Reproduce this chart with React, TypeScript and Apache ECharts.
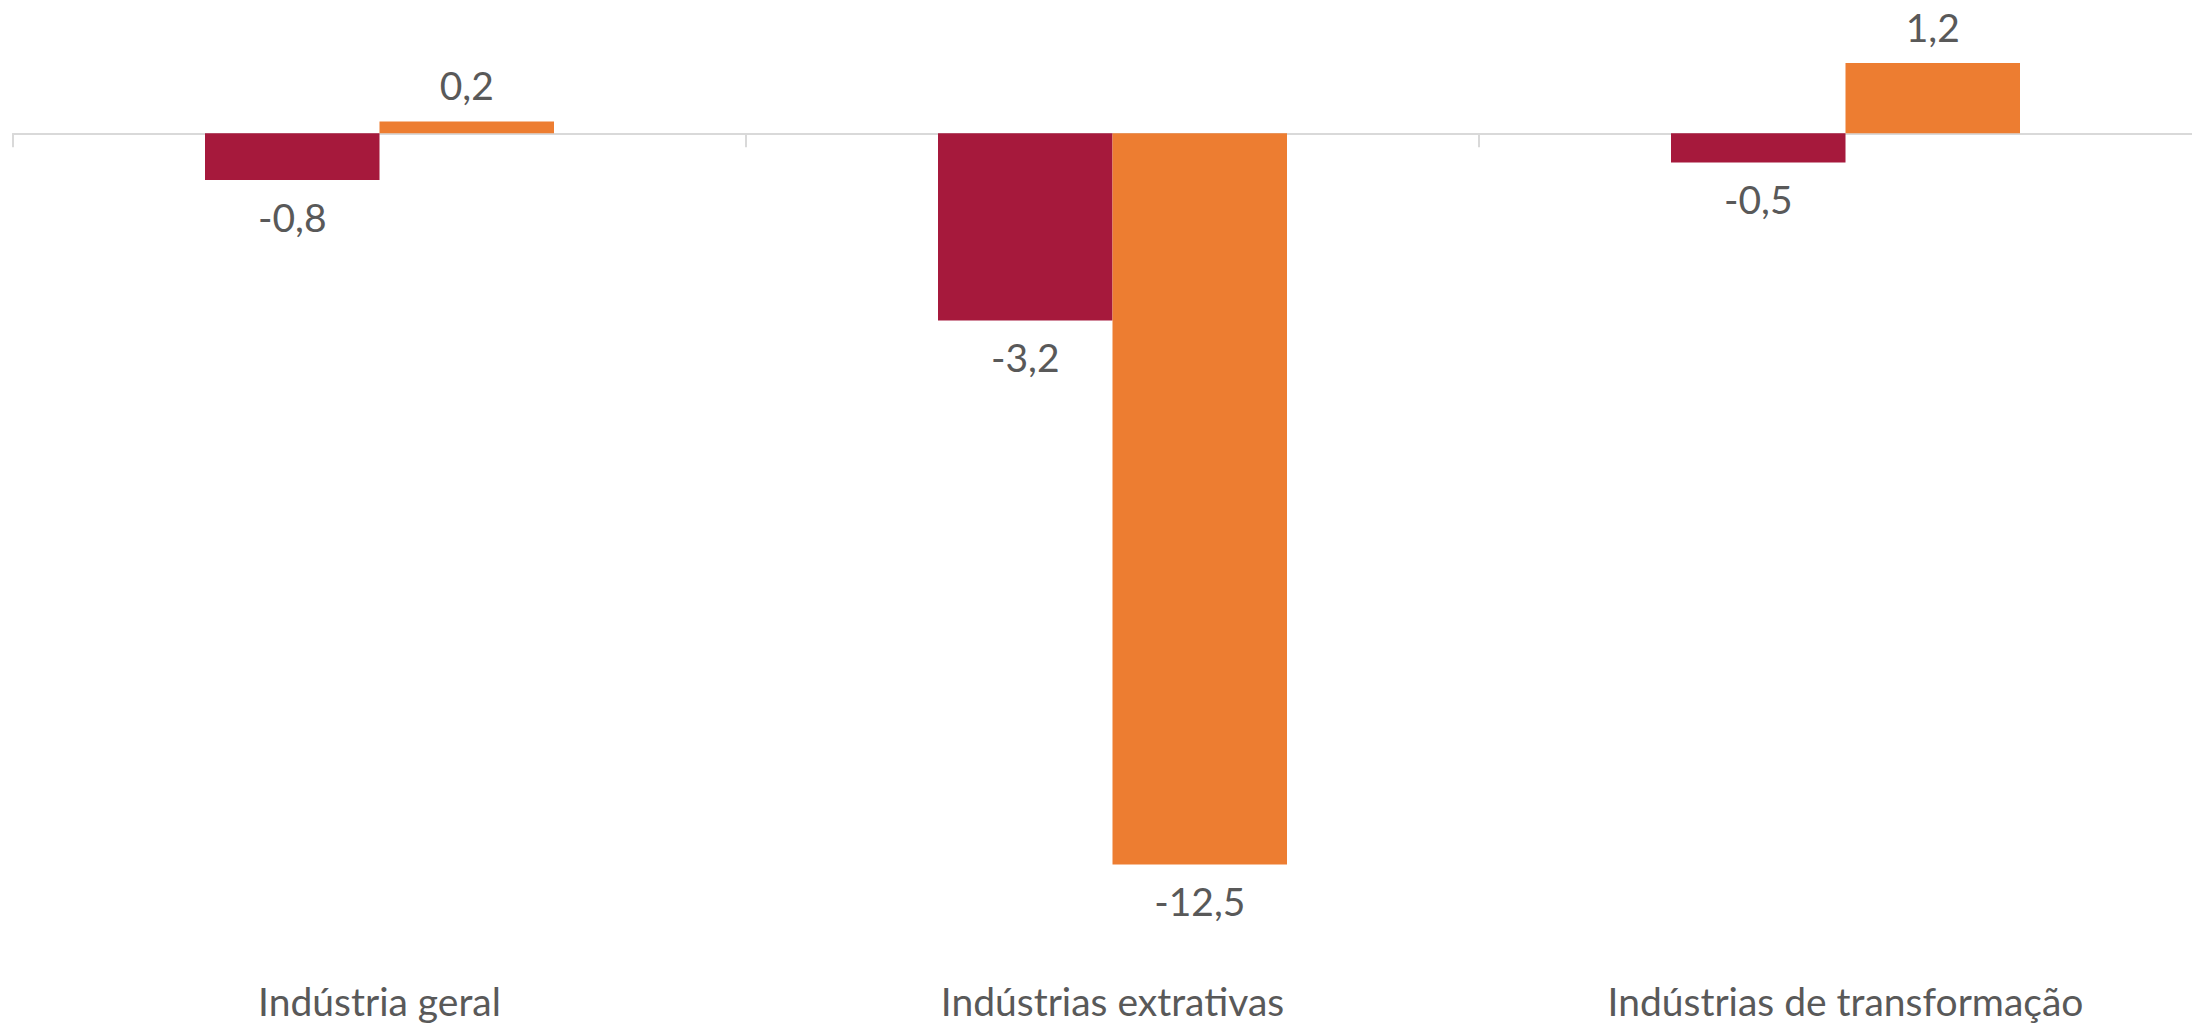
import React, { useEffect, useRef } from "react";
import * as echarts from "echarts";

const categories = ["Indústria geral", "Indústrias extrativas", "Indústrias de transformação"];
const seriesA = [-0.8, -3.2, -0.5];
const seriesB = [0.2, -12.5, 1.2];

const FONT = "Lato";
const LABEL_COLOR = "#595959";

const fmt = (p: any) => Number(p.value).toFixed(1).replace(".", ",");

export default function App() {
  const ref = useRef<HTMLDivElement>(null);
  useEffect(() => {
    document.body.style.margin = "0";
    const chart = echarts.init(ref.current!, null, { renderer: "svg" });
    const labelCfg = {
      show: true,
      position: "outside",
      distance: 17,
      formatter: fmt,
      color: LABEL_COLOR,
      fontFamily: FONT,
      fontSize: 39,
      lineHeight: 39,
    };
    chart.setOption({
      animation: false,
      backgroundColor: "#ffffff",
      grid: {
        left: 13,
        top: 16.3,
        width: 2199,
        height: 936,
        containLabel: false,
        outerBoundsMode: "none",
      },
      xAxis: [
        {
          type: "category",
          data: categories,
          axisLine: { onZero: true, lineStyle: { color: "#d9d9d9", width: 2 } },
          axisTick: { show: true, length: 14, lineStyle: { color: "#d9d9d9", width: 2 } },
          axisLabel: { show: false },
          splitLine: { show: false },
        },
        {
          type: "category",
          data: categories,
          position: "bottom",
          axisLine: { show: false, onZero: false },
          axisTick: { show: false },
          axisLabel: {
            margin: 29,
            color: LABEL_COLOR,
            fontFamily: FONT,
            fontSize: 39,
            lineHeight: 39,
          },
          splitLine: { show: false },
        },
      ],
      yAxis: {
        type: "value",
        min: -14,
        max: 2,
        show: false,
        splitLine: { show: false },
      },
      series: [
        {
          type: "bar",
          data: seriesA,
          barWidth: 174.5,
          barGap: "0%",
          itemStyle: { color: "#A6193C" },
          label: labelCfg,
        },
        {
          type: "bar",
          data: seriesB,
          barWidth: 174.5,
          barGap: "0%",
          itemStyle: { color: "#ED7D31" },
          label: labelCfg,
        },
      ],
    });
    return () => chart.dispose();
  }, []);
  return (
    <div
      ref={ref}
      style={{ position: "absolute", left: 0, top: 0, width: 2192, height: 1029 }}
    />
  );
}
